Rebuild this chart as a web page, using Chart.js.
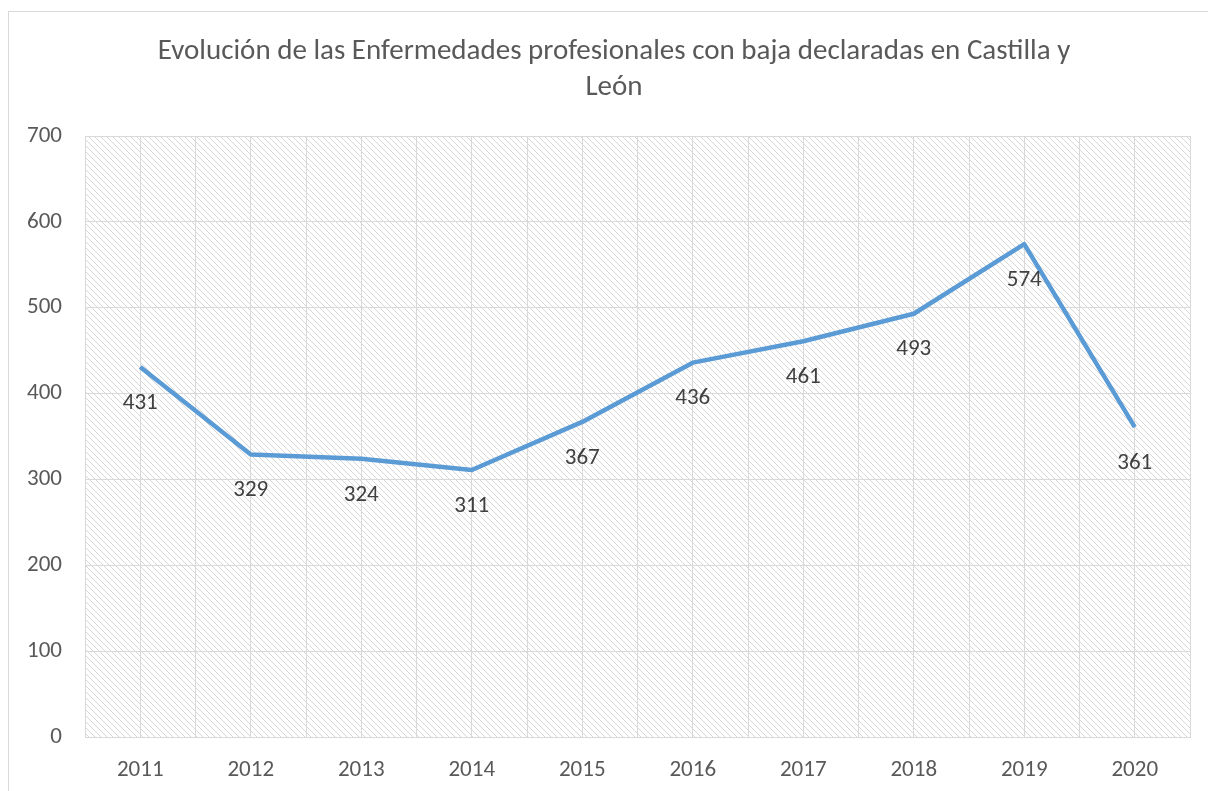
<!DOCTYPE html>
<html>
<head>
<meta charset="utf-8">
<script src="https://cdn.jsdelivr.net/npm/chart.js@4.4.1/dist/chart.umd.min.js"></script>
<style>
 body { margin:0; background:#fff; }
 #wrap { position:absolute; left:0; top:0; width:1208px; height:791px; }
</style>
</head>
<body>
<div id="wrap"><canvas id="myChart" width="1208" height="791"></canvas></div>
<script>
// datos
var years = ['2011','2012','2013','2014','2015','2016','2017','2018','2019','2020'];
var bajas = [431, 329, 324, 311, 367, 436, 461, 493, 574, 361];
var titleLines = ['Evolución de las Enfermedades profesionales con baja declaradas en Castilla y', 'León'];
var yTicks = [0, 100, 200, 300, 400, 500, 600, 700];

var FONT = 'Calibri, Carlito, Lato, "Open Sans", sans-serif';

// rayado del fondo
function makeHatch(){
  var c = document.createElement('canvas');
  c.width = 6; c.height = 6;
  var g = c.getContext('2d');
  g.strokeStyle = '#d8d8d8';
  g.lineWidth = 1;
  g.beginPath();
  g.moveTo(-1, -1); g.lineTo(7, 7);
  g.moveTo(-4, 2); g.lineTo(2, 8);
  g.moveTo(2, -4); g.lineTo(8, 2);
  g.stroke();
  return c;
}

var bgPlugin = {
  id: 'bg',
  beforeDraw: function(chart){
    var ctx = chart.ctx, a = chart.chartArea;
    ctx.save();
    ctx.fillStyle = '#fff';
    ctx.fillRect(0, 0, chart.width, chart.height);
    ctx.strokeStyle = '#d9d9d9';
    ctx.lineWidth = 1;
    ctx.strokeRect(8.5, 11.5, 1250, 900);
    ctx.fillStyle = ctx.createPattern(makeHatch(), 'repeat');
    ctx.fillRect(a.left, a.top, a.right - a.left, a.bottom - a.top);
    // titulo
    ctx.font = '29px ' + FONT;
    ctx.fillStyle = '#595959';
    ctx.textAlign = 'center';
    ctx.textBaseline = 'middle';
    ctx.fillText(titleLines[0], 614, 52);
    ctx.fillText(titleLines[1], 614, 88);
    ctx.restore();
  }
};

var labelsPlugin = {
  id: 'valueLabels',
  afterDatasetsDraw: function(chart){
    var ctx = chart.ctx;
    var meta = chart.getDatasetMeta(0);
    ctx.save();
    ctx.font = '23px ' + FONT;
    ctx.fillStyle = '#404040';
    ctx.textAlign = 'center';
    ctx.textBaseline = 'middle';
    meta.data.forEach(function(pt, i){
      ctx.fillText(String(bajas[i]), pt.x, pt.y + 36);
    });
    ctx.restore();
  }
};

var ctx = document.getElementById('myChart').getContext('2d');
window.chart = new Chart(ctx, {
  type: 'line',
  data: {
    labels: years,
    datasets: [{
      data: bajas,
      borderColor: '#5b9bd5',
      borderWidth: 4.5,
      pointRadius: 0,
      tension: 0,
      fill: false,
      xAxisID: 'x',
      borderJoinStyle: 'round'
    }]
  },
  options: {
    responsive: false,
    animation: false,
    layout: { padding: { left: 18, right: 18, top: 136, bottom: 0 } },
    plugins: {
      legend: { display: false },
      tooltip: { enabled: false },
      title: { display: false }
    },
    scales: {
      x: {
        type: 'category',
        offset: true,
        grid: { offset: true, color: '#d9d9d9', drawTicks: false },
        border: { color: '#d9d9d9' },
        ticks: { color: '#595959', padding: 19, font: { family: FONT, size: 23 } },
        afterFit: function(s){ s.height = 54; }
      },
      x2: {
        type: 'category',
        labels: years,
        offset: true,
        position: 'bottom',
        grid: { offset: false, color: '#d9d9d9', drawTicks: false },
        border: { display: false },
        ticks: { display: false },
        afterFit: function(s){ s.height = 0; }
      },
      y: {
        min: 0, max: 700,
        afterBuildTicks: function(s){ s.ticks = yTicks.map(function(v){ return { value: v }; }); },
        grid: { color: '#d9d9d9', drawTicks: false },
        border: { display: false },
        ticks: { color: '#595959', padding: 23, font: { family: FONT, size: 23 } },
        afterFit: function(s){ s.width = 67; }
      }
    }
  },
  plugins: [bgPlugin, labelsPlugin]
});
</script>
</body>
</html>
